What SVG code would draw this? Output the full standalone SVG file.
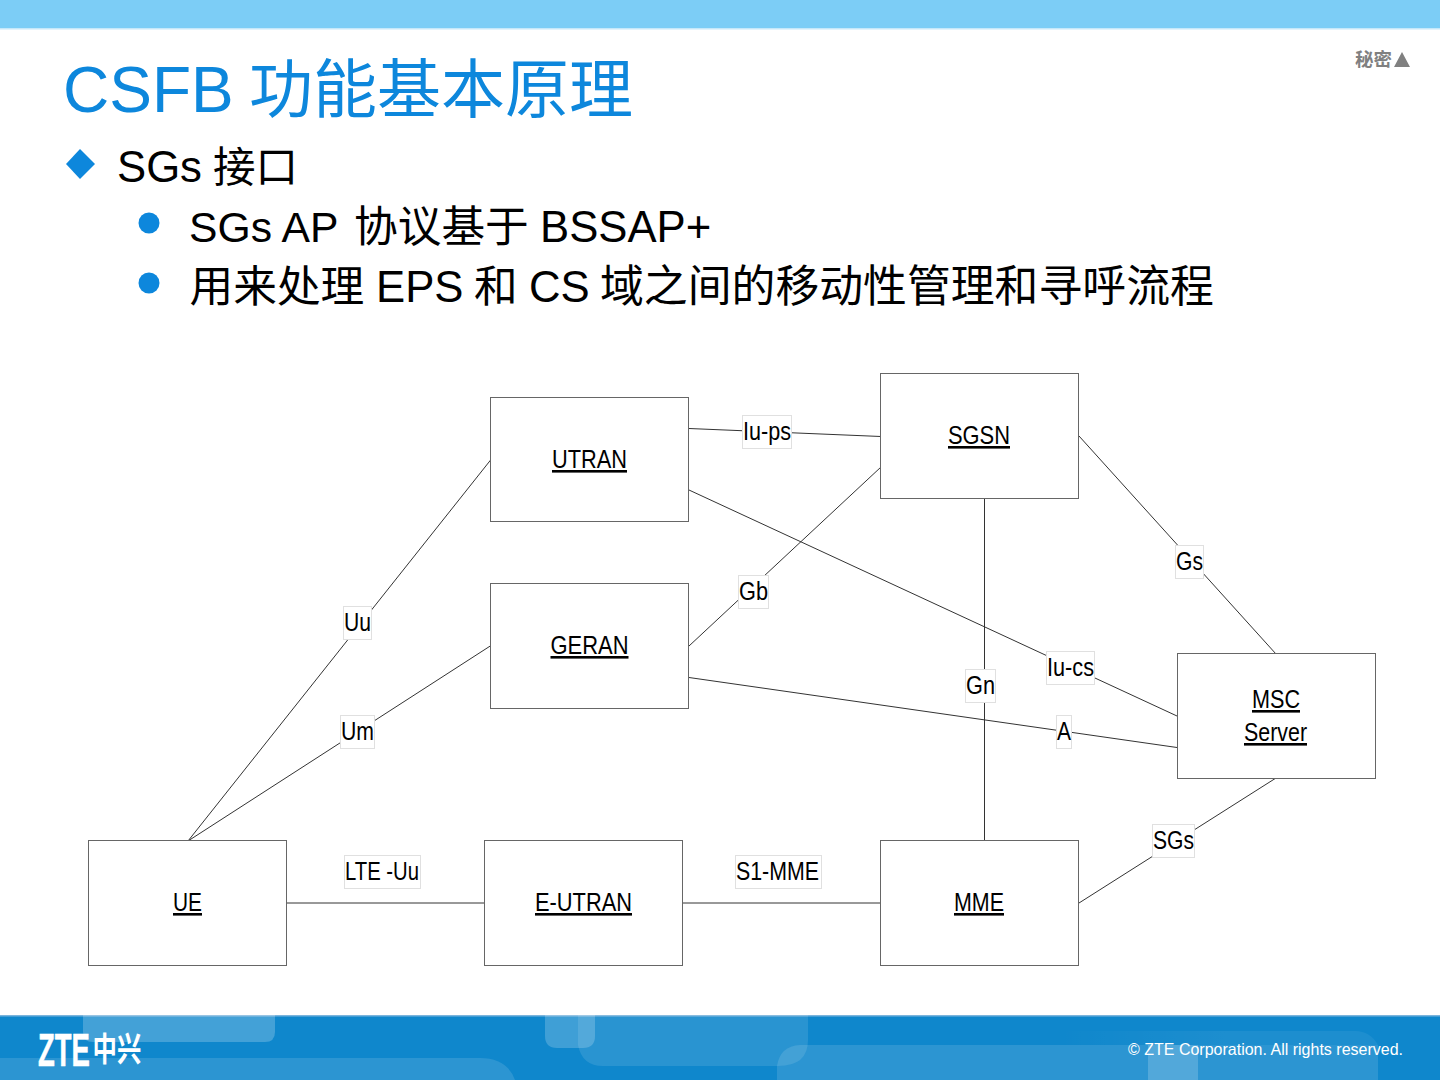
<svg xmlns="http://www.w3.org/2000/svg" width="1440" height="1080" viewBox="0 0 1440 1080">
<defs><linearGradient id="fade" gradientUnits="userSpaceOnUse" x1="1060" y1="0" x2="1230" y2="0"><stop offset="0" stop-color="#fff" stop-opacity="0"/><stop offset="1" stop-color="#fff" stop-opacity=".06"/></linearGradient></defs>
<style>
text{font-family:"Liberation Sans","Noto Sans CJK SC",sans-serif}
.title{font-size:64px;fill:#0d87dc}
.b{font-size:43.7px;fill:#000}
.box{fill:#fff;stroke:#666;stroke-width:1}
.c{stroke:#333;stroke-width:1;fill:none}
.lb{fill:#fff;stroke:#e0e0e0;stroke-width:1}
.n{font-size:26px;fill:#000;text-decoration:underline;text-anchor:start}
.l{font-size:26px;fill:#000}
</style>
<rect width="1440" height="28" fill="#7ccdf6"/>
<rect y="28" width="1440" height="1.5" fill="#c5e8fa"/>
<text x="1355" y="66" font-size="18" font-weight="bold" fill="#808080" textLength="37" lengthAdjust="spacingAndGlyphs">秘密</text>
<polygon points="1394,67 1402,52 1410,67" fill="#808080"/>
<text class="title" x="63" y="112">CSFB <tspan x="249">功能基本原理</tspan></text>
<polygon points="80,149 95,164 80,179 66,164" fill="#0d87dc"/>
<text class="b" x="117" y="182" font-size="42.67">SGs <tspan x="213" style="font-size:42.5px">接口</tspan></text>
<circle cx="149" cy="223" r="10.5" fill="#0d87dc"/>
<text class="b" x="189" y="242"><tspan style="font-size:42.67px">SGs AP </tspan><tspan x="354">协议基于 </tspan><tspan x="540">BSSAP+</tspan></text>
<circle cx="149" cy="283" r="10.5" fill="#0d87dc"/>
<text class="b" x="189.500" y="302">用来处理 <tspan x="376">EPS </tspan><tspan x="474">和 </tspan><tspan x="529">CS </tspan><tspan x="600" style="font-size:43.85px">域之间的移动性管理和寻呼流程</tspan></text>

<g id="connectors">
<line class="c" x1="689" y1="428.500" x2="881" y2="436.500"/>
<line class="c" x1="491" y1="459.500" x2="188" y2="841"/>
<line class="c" x1="491" y1="645.500" x2="188" y2="841"/>
<line class="c" x1="689" y1="490" x2="1177" y2="716"/>
<line class="c" x1="689" y1="646" x2="881" y2="467"/>
<line class="c" x1="689" y1="677.500" x2="1177" y2="747.500"/>
<line class="c" x1="984.500" y1="498" x2="984.500" y2="841"/>
<line class="c" x1="1079" y1="436" x2="1276" y2="654"/>
<line class="c" x1="1276" y1="778" x2="1079" y2="903"/>
<line class="c" x1="287" y1="903" x2="485" y2="903"/>
<line class="c" x1="683" y1="903" x2="881" y2="903"/>
</g>

<g id="UTRAN"><rect class="box" x="490.500" y="397.500" width="198" height="124"/><text class="n" x="552" y="468" textLength="75" lengthAdjust="spacingAndGlyphs">UTRAN</text></g>
<g id="SGSN"><rect class="box" x="880.500" y="373.500" width="198" height="125"/><text class="n" x="948" y="444" textLength="62" lengthAdjust="spacingAndGlyphs">SGSN</text></g>
<g id="GERAN"><rect class="box" x="490.500" y="583.500" width="198" height="125"/><text class="n" x="550.500" y="654" textLength="78" lengthAdjust="spacingAndGlyphs">GERAN</text></g>
<g id="MSC-Server"><rect class="box" x="1177.500" y="653.500" width="198" height="125"/><text class="n" x="1252" y="708" textLength="48" lengthAdjust="spacingAndGlyphs">MSC</text><text class="n" x="1244" y="741" textLength="63" lengthAdjust="spacingAndGlyphs">Server</text></g>
<g id="UE"><rect class="box" x="88.500" y="840.500" width="198" height="125"/><text class="n" x="173" y="911" textLength="29" lengthAdjust="spacingAndGlyphs">UE</text></g>
<g id="E-UTRAN"><rect class="box" x="484.500" y="840.500" width="198" height="125"/><text class="n" x="535" y="911" textLength="97" lengthAdjust="spacingAndGlyphs">E-UTRAN</text></g>
<g id="MME"><rect class="box" x="880.500" y="840.500" width="198" height="125"/><text class="n" x="954" y="911" textLength="50" lengthAdjust="spacingAndGlyphs">MME</text></g>

<g id="labels">
<rect class="lb" x="742.500" y="415.500" width="49" height="33"/><text class="l" x="743" y="440" textLength="48" lengthAdjust="spacingAndGlyphs">Iu-ps</text>
<rect class="lb" x="1175.500" y="545.500" width="28" height="33"/><text class="l" x="1176" y="570" textLength="27" lengthAdjust="spacingAndGlyphs">Gs</text>
<rect class="lb" x="738.500" y="575.500" width="30" height="33"/><text class="l" x="739" y="600" textLength="29" lengthAdjust="spacingAndGlyphs">Gb</text>
<rect class="lb" x="343.500" y="606.500" width="28" height="33"/><text class="l" x="344" y="631" textLength="27" lengthAdjust="spacingAndGlyphs">Uu</text>
<rect class="lb" x="1046.500" y="651.500" width="48" height="33"/><text class="l" x="1047" y="676" textLength="47" lengthAdjust="spacingAndGlyphs">Iu-cs</text>
<rect class="lb" x="965.500" y="669.500" width="30" height="33"/><text class="l" x="966" y="694" textLength="29" lengthAdjust="spacingAndGlyphs">Gn</text>
<rect class="lb" x="340.500" y="715.500" width="34" height="33"/><text class="l" x="341" y="740" textLength="33" lengthAdjust="spacingAndGlyphs">Um</text>
<rect class="lb" x="1056.500" y="715.500" width="15" height="33"/><text class="l" x="1057" y="740" textLength="14" lengthAdjust="spacingAndGlyphs">A</text>
<rect class="lb" x="1152.500" y="824.500" width="42" height="33"/><text class="l" x="1153" y="849" textLength="41" lengthAdjust="spacingAndGlyphs">SGs</text>
<rect class="lb" x="344.500" y="855.500" width="76" height="33"/><text class="l" x="345" y="880" textLength="74" lengthAdjust="spacingAndGlyphs">LTE -Uu</text>
<rect class="lb" x="735.500" y="855.500" width="86" height="33"/><text class="l" x="736" y="880" textLength="83" lengthAdjust="spacingAndGlyphs">S1-MME</text>
</g>

<rect y="1015" width="1440" height="65" fill="#0f87cc"/>
<rect y="1015" width="1440" height="1.500" fill="#7ab4dc"/>
<g fill="#fff">
<path d="M83,1015V1032Q83,1042 93,1042H265Q275,1042 275,1032V1015Z" opacity=".22"/>
<path d="M0,1058H480Q507,1058 515,1080H0Z" opacity=".12"/>
<path d="M578,1015V1045Q582,1066 603,1066H778Q808,1066 808,1040V1015Z" opacity=".11"/>
<path d="M545,1015V1036Q545,1048 557,1048H583Q595,1048 595,1036V1015Z" opacity=".2"/>
<path d="M777,1080V1066Q780,1046 800,1045H1378V1080Z" opacity=".12"/>
<path d="M1060,1045V1031H1355Q1370,1031 1378,1045Z" fill="url(#fade)"/>
<rect x="1148" y="1045" width="50" height="35" opacity=".18"/>
</g>
<text transform="translate(38,1066) scale(.585,1)" font-size="47" font-weight="bold" fill="#fff" stroke="#fff" stroke-width=".6">ZTE</text>
<text transform="translate(92.500,1061) scale(.74,1)" font-size="33" font-weight="bold" fill="#fff">中兴</text>
<text x="1128" y="1055" font-size="16.500" fill="#fff" textLength="275" lengthAdjust="spacingAndGlyphs">© ZTE Corporation. All rights reserved.</text>
</svg>
